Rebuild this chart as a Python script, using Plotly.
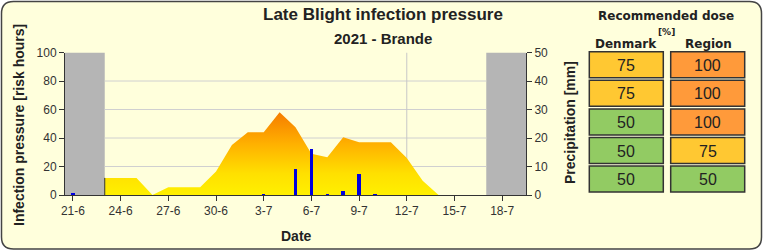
import plotly.graph_objects as go
import pandas as pd

W, H = 763, 251

# ---------------- data ----------------
ip_start = "2021-06-23"
ip_values = [12, 12, 12, 0, 5.5, 5.5, 5.5, 16.5, 35, 44, 44, 58, 47.5, 29,
             26.5, 40.5, 37, 37, 37, 26, 10, 0]
precip_dates = ["2021-06-21", "2021-07-03", "2021-07-05", "2021-07-06",
                "2021-07-07", "2021-07-08", "2021-07-09", "2021-07-10"]
precip_mm = [0.8, 0.5, 9.4, 16.4, 0.5, 1.5, 7.6, 0.5]
tick_dates = ["2021-06-21", "2021-06-24", "2021-06-27", "2021-06-30", "2021-07-03",
              "2021-07-06", "2021-07-09", "2021-07-12", "2021-07-15", "2021-07-18"]
tick_labels = ["21-6", "24-6", "27-6", "30-6", "3-7", "6-7", "9-7", "12-7", "15-7", "18-7"]
season_start = "2021-06-23"
season_end = "2021-07-17"
marker_date = "2021-07-12"
x_range = ["2021-06-20 12:00", "2021-07-19 12:00"]
left_ticks = [0, 20, 40, 60, 80, 100]
right_ticks = [0, 10, 20, 30, 40, 50]

dose_columns = ["Denmark", "Region"]
dose_denmark = [75, 75, 50, 50, 50]
dose_region = [100, 100, 100, 75, 50]
dose_colors = {50: "#92CB63", 75: "#FFC832", 100: "#FF9A3A"}

ip_dates = pd.date_range(ip_start, periods=len(ip_values))

# ---------------- helpers ----------------
def px(x):
    return x / W

def py(y):
    return 1 - y / H

FONT = "Liberation Sans, Arial, sans-serif"
TXT = "#222222"

fig = go.Figure()

fig.add_trace(go.Scatter(
    x=ip_dates, y=ip_values, mode="lines", line=dict(width=0),
    fill="tozeroy",
    fillgradient=dict(type="vertical", start=0, stop=60,
                      colorscale=[[0, "#FFF000"], [0.25, "#FFE000"],
                                  [0.6, "#FFB000"], [1, "#F57800"]]),
    hoverinfo="skip", showlegend=False))

fig.add_trace(go.Scatter(
    x=[ip_dates[0], ip_dates[0]], y=[0, ip_values[0]], mode="lines",
    line=dict(color="#333333", width=1), showlegend=False, hoverinfo="skip"))

fig.add_trace(go.Bar(
    x=precip_dates, y=precip_mm, yaxis="y2", marker=dict(color="#0000E0", line=dict(width=0)),
    width=0.22 * 86400000, showlegend=False))

shapes = []
# rounded background box
x0, x1, y0, y1, r = 1.5, 761.5, 1.5, 249.0, 12
path = (f"M {px(x0 + r)} {py(y0)} L {px(x1 - r)} {py(y0)} "
        f"Q {px(x1)} {py(y0)} {px(x1)} {py(y0 + r)} "
        f"L {px(x1)} {py(y1 - r)} Q {px(x1)} {py(y1)} {px(x1 - r)} {py(y1)} "
        f"L {px(x0 + r)} {py(y1)} Q {px(x0)} {py(y1)} {px(x0)} {py(y1 - r)} "
        f"L {px(x0)} {py(y0 + r)} Q {px(x0)} {py(y0)} {px(x0 + r)} {py(y0)} Z")
shapes.append(dict(type="path", xref="paper", yref="paper", path=path,
                   fillcolor="#FFFFDC", line=dict(color="#444444", width=1.5), layer="below"))

# grey out-of-season regions
shapes.append(dict(type="rect", xref="x", yref="y", x0=x_range[0], x1=season_start,
                   y0=0, y1=100, fillcolor="#B5B5B5", line=dict(width=0), layer="below"))
shapes.append(dict(type="rect", xref="x", yref="y", x0=season_end, x1=x_range[1],
                   y0=0, y1=100, fillcolor="#B5B5B5", line=dict(width=0), layer="below"))
# horizontal grid lines within the season
for t in left_ticks[1:-1]:
    shapes.append(dict(type="line", xref="x", yref="y", x0=season_start, x1=season_end,
                       y0=t, y1=t, line=dict(color="#D0D0D0", width=1), layer="below"))
# marker line
shapes.append(dict(type="line", xref="x", yref="y", x0=marker_date, x1=marker_date,
                   y0=0, y1=100, line=dict(color="#C8C8C8", width=1), layer="below"))

annotations = []
def ann(text, x, y, size, bold=True, angle=0, family=FONT, color=TXT):
    annotations.append(dict(text=text, x=px(x), y=py(y), xref="paper", yref="paper",
                            showarrow=False, xanchor="center", yanchor="middle",
                            textangle=angle,
                            font=dict(family=family, size=size, color=color,
                                      weight="bold" if bold else "normal")))

ann("Late Blight infection pressure", 383, 15, 17)
ann("2021 - Brande", 383, 38.5, 15)
ann("Infection pressure [risk hours]", 19, 125, 14, angle=-90)
ann("Precipitation [mm]", 570, 123, 14, angle=-90)
ann("Date", 296, 236, 14)

ann("Recommended dose", 666, 16.5, 12, family="DejaVu Sans, sans-serif")
ann("[%]", 666, 32, 9, family="DejaVu Sans, sans-serif")
ann(dose_columns[0], 626, 43.5, 12, family="DejaVu Sans, sans-serif")
ann(dose_columns[1], 708, 43.5, 12, family="DejaVu Sans, sans-serif")

col_x = [(589.3, 663.3), (670.7, 744.7)]
for c, values in enumerate([dose_denmark, dose_region]):
    for i, v in enumerate(values):
        top = 51.7 + 28.6 * i
        bot = top + 26
        xa, xb = col_x[c]
        shapes.append(dict(type="rect", xref="paper", yref="paper",
                           x0=px(xa), x1=px(xb), y0=py(bot), y1=py(top),
                           fillcolor=dose_colors[v], line=dict(color="#333333", width=1.5),
                           layer="above"))
        ann(str(v), (xa + xb) / 2, (top + bot) / 2 + 0.5, 16, bold=False)

axis_common = dict(ticks="outside", ticklen=5, tickcolor="#333333", showline=True,
                   linecolor="#333333", linewidth=1, automargin=False,
                   tickfont=dict(family=FONT, size=12, color="#333333"))

fig.update_layout(
    width=W, height=H, margin=dict(l=0, r=0, t=0, b=0, pad=0, autoexpand=False),
    paper_bgcolor="white", plot_bgcolor="white",
    showlegend=False, bargap=0,
    xaxis=dict(domain=[px(65), px(526)], type="date", range=x_range,
               tickvals=tick_dates, ticktext=tick_labels, showgrid=False,
               zeroline=False, **axis_common),
    yaxis=dict(domain=[py(195), py(52.5)], range=[0, 100], tickvals=left_ticks,
               showgrid=False, zeroline=False, **axis_common),
    yaxis2=dict(overlaying="y", side="right", anchor="x", range=[0, 50],
                tickvals=right_ticks, showgrid=False, zeroline=False, **axis_common),
    shapes=shapes, annotations=annotations,
)

fig.write_html("out.html", config={"displayModeBar": False})
